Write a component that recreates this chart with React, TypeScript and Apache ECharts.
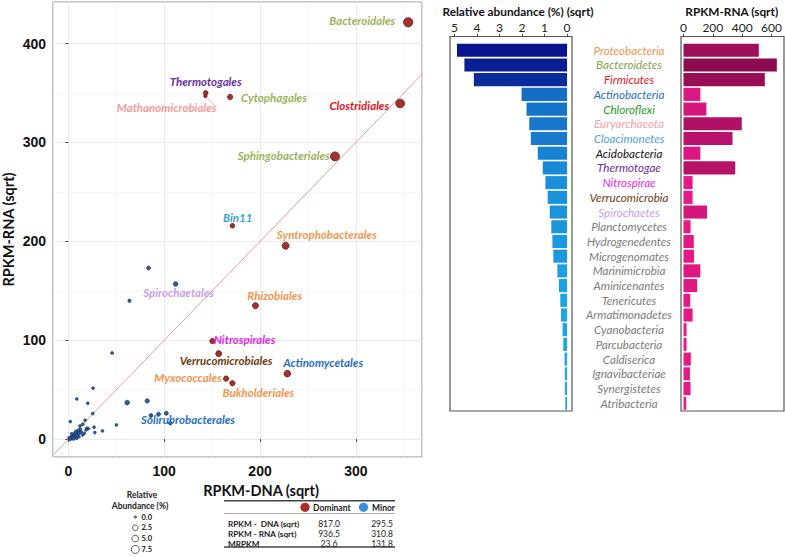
import React, { useEffect, useRef } from 'react';
import * as echarts from 'echarts';

// ---------- Scatter data (sqrt RPKM) ----------
const dominantNames = ['Bacteroidales', 'Thermotogales', 'Mathanomicrobiales', 'Cytophagales', 'Clostridiales', 'Sphingobacteriales', 'Bin11', 'Syntrophobacterales', 'Rhizobiales', 'Nitrospirales', 'Verrucomicrobiales', 'Actinomycetales', 'Myxococcales', 'Bukholderiales'];
const dominantDNA = [354.6, 143.3, 143.0, 168.8, 346.2, 278.2, 171.2, 226.7, 195.2, 150.3, 156.9, 228.5, 164.6, 171.2];
const dominantRNA = [421.5, 350.1, 347.0, 346.0, 339.4, 285.9, 215.8, 195.6, 135.0, 99.3, 86.5, 66.3, 61.2, 56.6];
const dominantAbund = [6.8, 0.72, 0.15, 1.16, 5.7, 6.2, 0.72, 3.0, 1.8, 1.16, 1.8, 2.6, 1.16, 1.16];

const minorNames = ['', 'Spirochaetales', '', '', '', '', '', '', '', '', '', '', '', 'Solirubrobacterales', '', '', '', '', '', '', '', '', '', '', '', '', '', '', '', '', '', '', '', '', '', '', '', '', '', '', '', '', '', '', '', '', ''];
const minorDNA = [83.7, 111.9, 63.8, 45.7, 25.8, 8.8, 20.3, 61.4, 82.3, 25.5, 86.2, 94.1, 102.2, 106.4, 50.2, 35.6, 26.9, 27.6, 2.1, 17.5, 15.1, 19.2, 12.2, 16.7, 14.9, 1.8, 3.5, 5.2, 7.0, 8.7, 10.5, 6.4, 8.1, 9.8, 11.5, 13.3, 4.2, 7.6, 12.4, 3.5, 8.7, 0.8, 2.5, 5.5, 11.0, 20.9, 18.5];
const minorRNA = [173.0, 156.9, 140.0, 87.2, 51.5, 40.7, 36.3, 37.0, 38.7, 25.9, 23.9, 25.3, 26.3, 16.2, 14.4, 8.4, 12.1, 6.7, 17.8, 19.2, 15.2, 11.1, 13.4, 6.0, 4.3, 0.0, 2.6, 4.3, 6.0, 7.7, 8.8, 2.0, 3.3, 4.6, 6.0, 7.4, 1.0, 7.7, 10.0, 5.4, 1.0, 1.4, 0.5, 0.3, 2.5, 10.7, 9.4];
const minorAbund = [0.33, 0.72, 0.1, 0.04, 0.02, 0.02, 0.02, 0.72, 0.48, 0.03, 0.33, 0.33, 0.33, 0.2, 0.03, 0.02, 0.02, 0.02, 0.02, 0.02, 0.03, 0.02, 0.02, 0.02, 0.02, 0.05, 0.05, 0.08, 0.08, 0.05, 0.05, 0.08, 0.05, 0.05, 0.05, 0.05, 0.08, 0.05, 0.05, 0.03, 0.03, 0.03, 0.03, 0.03, 0.03, 0.02, 0.02];

const identityLine = [-30, 420];

// ---------- Phylum bars ----------
const phyla = ['Proteobacteria', 'Bacteroidetes', 'Firmicutes', 'Actinobacteria', 'Chloroflexi', 'Euryarchaeota', 'Cloacimonetes', 'Acidobacteria', 'Thermotogae', 'Nitrospirae', 'Verrucomicrobia', 'Spirochaetes', 'Planctomycetes', 'Hydrogenedentes', 'Microgenomates', 'Marinimicrobia', 'Aminicenantes', 'Tenericutes', 'Armatimonadetes', 'Cyanobacteria', 'Parcubacteria', 'Caldiserica', 'Ignavibacteriae', 'Synergistetes', 'Atribacteria'];
const relAbundSqrt = [4.89, 4.56, 4.14, 2.02, 1.80, 1.68, 1.61, 1.30, 1.08, 0.96, 0.86, 0.77, 0.70, 0.65, 0.61, 0.43, 0.36, 0.30, 0.27, 0.20, 0.17, 0.11, 0.10, 0.10, 0.08];
const rpkmRnaSqrt = [513, 636, 554, 115, 156, 397, 334, 115, 352, 62, 62, 160, 48, 70, 72, 115, 93, 46, 62, 21, 21, 50, 44, 48, 19];

// ---------- Table ----------
const tableRows = ['RPKM -  DNA (sqrt)', 'RPKM - RNA (sqrt)', 'MRPKM'];
const tableDominant = ['817.0', '936.5', '23.6'];
const tableMinor = ['295.5', '310.8', '131.8'];
const legendSizes = ['0.0', '2.5', '5.0', '7.5'];

// ---------- Styles ----------
const phylumColor: Record<string, string> = {
  Proteobacteria: '#f0924a', Bacteroidetes: '#86a04a', Firmicutes: '#e3141c', Actinobacteria: '#1f6fc2',
  Chloroflexi: '#1e9a28', Euryarchaeota: '#f3a3a3', Cloacimonetes: '#4ea5d3', Acidobacteria: '#111111',
  Thermotogae: '#6b2f9e', Nitrospirae: '#e61ee6', Verrucomicrobia: '#6b3d12', Spirochaetes: '#c5a0ef',
};
const labelStyle: Record<string, { color: string; align: string; dx: number; dy: number }> = {
  Bacteroidales: { color: '#9bb35c', align: 'right', dx: -13, dy: -1.3 },
  Thermotogales: { color: '#6b2f9e', align: 'center', dx: 0, dy: -11.7 },
  Mathanomicrobiales: { color: '#f29b9b', align: 'center', dx: -38.8, dy: 11.3 },
  Cytophagales: { color: '#9bb35c', align: 'left', dx: 11, dy: 0.6 },
  Clostridiales: { color: '#e3141c', align: 'right', dx: -11, dy: 2 },
  Sphingobacteriales: { color: '#9bb35c', align: 'right', dx: -5.3, dy: -0.6 },
  Bin11: { color: '#3aa2d6', align: 'center', dx: 5.2, dy: -8.4 },
  Syntrophobacterales: { color: '#f0954e', align: 'center', dx: 41.2, dy: -11.4 },
  Rhizobiales: { color: '#f0954e', align: 'center', dx: 19.3, dy: -10 },
  Nitrospirales: { color: '#e61ee6', align: 'left', dx: 1.3, dy: -1 },
  Verrucomicrobiales: { color: '#6b3d12', align: 'center', dx: 7.4, dy: 6.6 },
  Actinomycetales: { color: '#1f6fc2', align: 'center', dx: 35.8, dy: -10.7 },
  Myxococcales: { color: '#f0954e', align: 'right', dx: -4.4, dy: -1 },
  Bukholderiales: { color: '#f0954e', align: 'center', dx: 26, dy: 9 },
  Spirochaetales: { color: '#c5a0ef', align: 'center', dx: 3, dy: 8.3 },
  Solirubrobacterales: { color: '#1f6fc2', align: 'center', dx: 17.7, dy: -3.3 },
};

const lerpColor = (a: number[], b: number[], t: number) => {
  const c = a.map((v, i) => Math.round(v + (b[i] - v) * Math.max(0, Math.min(1, t))));
  return `rgb(${c[0]},${c[1]},${c[2]})`;
};
const blueScale = (v: number) => lerpColor([30, 172, 236], [8, 16, 138], v / 5);
const pinkScale = (v: number) => lerpColor([238, 26, 140], [138, 11, 78], v / 640);
const sizeOf = (a: number) => 2.5 + 2.6 * Math.sqrt(a);

const labelFont = { fontFamily: 'Lato', fontStyle: 'italic' as const, fontWeight: 'bold' as const, fontSize: 11.5 };

function makeItem(name: string, x: number, y: number, a: number) {
  const item: any = { name, value: [x, y, a] };
  const st = labelStyle[name];
  if (st) {
    item.label = {
      show: true, position: 'inside', align: st.align, verticalAlign: 'middle', formatter: '{b}',
      color: st.color, ...labelFont,
    };
    if (name === 'Mathanomicrobiales') {
      item.labelLine = { show: true, lineStyle: { color: st.color, width: 0.8 } };
    }
  }
  return item;
}

const layoutLabel = (p: any) => {
  const st = labelStyle[p.text];
  return st ? { dx: st.dx, dy: st.dy } : {};
};

export default function App() {
  const ref = useRef<HTMLDivElement>(null);
  useEffect(() => {
    if (!ref.current) return;
    const chart = echarts.init(ref.current, undefined, { renderer: 'svg' });

    const domData = dominantNames.map((n, i) => makeItem(n, dominantDNA[i], dominantRNA[i], dominantAbund[i]));
    const minData = minorDNA.map((x, i) => makeItem(minorNames[i] || '', x, minorRNA[i], minorAbund[i]));

    const tickFont = { fontFamily: 'Liberation Sans', fontWeight: 'bold' as const, fontSize: 14, color: '#111' };
    const nameFont = { fontFamily: 'Lato', fontWeight: 'bold' as const, fontSize: 14.5, color: '#111' };
    const barTick = { fontFamily: 'Lato', fontSize: 12, color: '#222', margin: 3 };
    const barTitle = { fontFamily: 'Lato', fontWeight: 'bold' as const, fontSize: 11.8, color: '#111' };

    const graphic: any[] = [
      { type: 'rect', shape: { x: 450, y: 36.5, width: 122, height: 374.5 }, style: { fill: 'none', stroke: '#555', lineWidth: 1.2 }, z: 10 },
      { type: 'rect', shape: { x: 681, y: 36.5, width: 103, height: 374.5 }, style: { fill: 'none', stroke: '#555', lineWidth: 1.2 }, z: 10 },
      { type: 'text', style: { text: 'Relative', x: 142, y: 495, align: 'center', verticalAlign: 'middle', fontFamily: 'Lato', fontWeight: 'bold', fontSize: 8.5, fill: '#222' } },
      { type: 'text', style: { text: 'Abundance (%)', x: 140, y: 505.5, align: 'center', verticalAlign: 'middle', fontFamily: 'Lato', fontWeight: 'bold', fontSize: 8.5, fill: '#222' } },
      { type: 'line', shape: { x1: 224, y1: 500.7, x2: 395, y2: 500.7 }, style: { stroke: '#444', lineWidth: 1.5 } },
      { type: 'line', shape: { x1: 224, y1: 513.5, x2: 395, y2: 513.5 }, style: { stroke: '#999', lineWidth: 0.8 } },
      { type: 'line', shape: { x1: 224, y1: 547, x2: 395, y2: 547 }, style: { stroke: '#444', lineWidth: 1.5 } },
      { type: 'circle', shape: { cx: 305, cy: 507.3, r: 4.6 }, style: { fill: '#b02a2a' } },
      { type: 'text', style: { text: 'Dominant', x: 313, y: 507.5, align: 'left', verticalAlign: 'middle', fontFamily: 'Lato', fontWeight: 'bold', fontSize: 8.5, fill: '#222' } },
      { type: 'circle', shape: { cx: 363.5, cy: 507.3, r: 4.6 }, style: { fill: '#3b8fdd' } },
      { type: 'text', style: { text: 'Minor', x: 372, y: 507.5, align: 'left', verticalAlign: 'middle', fontFamily: 'Lato', fontWeight: 'bold', fontSize: 8.5, fill: '#222' } },
    ];
    const legendR = [1.2, 2.8, 3.3, 4.0];
    legendSizes.forEach((s, i) => {
      const y = 517 + i * 10.8;
      graphic.push({ type: 'circle', shape: { cx: 135.3, cy: y, r: legendR[i] }, style: { fill: i === 0 ? '#999' : '#fff', stroke: '#333', lineWidth: 0.8 } });
      graphic.push({ type: 'text', style: { text: s, x: 141.5, y, align: 'left', verticalAlign: 'middle', fontFamily: 'Lato', fontWeight: 'bold', fontSize: 7.5, fill: '#222' } });
    });
    tableRows.forEach((r, i) => {
      const y = 523.5 + i * 10;
      graphic.push({ type: 'text', style: { text: r, x: 228, y, align: 'left', verticalAlign: 'middle', fontFamily: 'Lato', fontWeight: 'bold', fontSize: 8.2, fill: '#222' } });
      graphic.push({ type: 'text', style: { text: tableDominant[i], x: 329, y, align: 'center', verticalAlign: 'middle', fontFamily: 'Lato', fontSize: 8.5, fill: '#222' } });
      graphic.push({ type: 'text', style: { text: tableMinor[i], x: 382, y, align: 'center', verticalAlign: 'middle', fontFamily: 'Lato', fontSize: 8.5, fill: '#222' } });
    });

    const option: any = {
      animation: false,
      backgroundColor: '#ffffff',
      grid: [
        { left: 53, top: 2, width: 369, height: 455, show: true, borderColor: '#8a8a8a', borderWidth: 1, backgroundColor: '#fff' },
        { left: 450, top: 42.6, width: 122, height: 368 },
        { left: 681, top: 42.6, width: 103, height: 368 },
      ],
      xAxis: [
        {
          gridIndex: 0, type: 'value', min: -16, max: 369, minInterval: 100, maxInterval: 100,
          axisLine: { show: false },
          axisTick: { show: true, length: 3, lineStyle: { color: '#444' } },
          axisLabel: { ...tickFont, margin: 7, showMinLabel: false, showMaxLabel: false },
          splitLine: { show: true, lineStyle: { color: '#e4e4e4', width: 0.8 } },
          minorTick: { show: false, splitNumber: 2 },
          minorSplitLine: { show: true, lineStyle: { color: '#f2f2f2', width: 0.6 } },
          name: 'RPKM-DNA (sqrt)', nameLocation: 'middle', nameGap: 21,
          nameTextStyle: { ...nameFont, padding: [0, 0, 0, 47] },
        },
        {
          gridIndex: 1, type: 'value', inverse: true, position: 'top', offset: 6,
          min: -0.22, max: 5.2, minInterval: 1, maxInterval: 1,
          axisLine: { show: false },
          axisTick: { show: true, length: 3, lineStyle: { color: '#444' } },
          axisLabel: { ...barTick, showMinLabel: false, showMaxLabel: false },
          splitLine: { show: false },
          name: 'Relative abundance (%) (sqrt)', nameLocation: 'middle', nameGap: 17,
          nameTextStyle: { ...barTitle, padding: [0, 0, 0, 14] },
        },
        {
          gridIndex: 2, type: 'value', position: 'top', offset: 6,
          min: -17, max: 674, minInterval: 200, maxInterval: 200,
          axisLine: { show: false },
          axisTick: { show: true, length: 3, lineStyle: { color: '#444' } },
          axisLabel: { ...barTick, showMinLabel: false, showMaxLabel: false },
          splitLine: { show: false },
          name: 'RPKM-RNA (sqrt)', nameLocation: 'middle', nameGap: 17,
          nameTextStyle: { ...barTitle },
        },
      ],
      yAxis: [
        {
          gridIndex: 0, type: 'value', min: -18, max: 442, minInterval: 100, maxInterval: 100,
          axisLine: { show: false },
          axisTick: { show: true, length: 3, lineStyle: { color: '#444' } },
          axisLabel: { ...tickFont, margin: 7, showMinLabel: false, showMaxLabel: false },
          splitLine: { show: true, lineStyle: { color: '#e4e4e4', width: 0.8 } },
          minorTick: { show: false, splitNumber: 2 },
          minorSplitLine: { show: true, lineStyle: { color: '#f2f2f2', width: 0.6 } },
          name: 'RPKM-RNA (sqrt)', nameLocation: 'middle', nameGap: 37, nameTextStyle: { ...nameFont },
        },
        {
          gridIndex: 1, type: 'category', data: phyla, inverse: true,
          axisLine: { show: false }, axisTick: { show: false }, axisLabel: { show: false },
        },
        {
          gridIndex: 2, type: 'category', data: phyla, inverse: true,
          axisLine: { show: false }, axisTick: { show: false },
          axisLabel: {
            interval: 0, margin: 52, align: 'center', fontFamily: 'Lato', fontStyle: 'italic', fontSize: 11.6,
            color: (v: string) => phylumColor[v] || '#7b7b7b',
          },
        },
      ],
      series: [
        {
          type: 'line', xAxisIndex: 0, yAxisIndex: 0, data: [[identityLine[0], identityLine[0]], [identityLine[1], identityLine[1]]],
          symbol: 'none', silent: true, clip: true, lineStyle: { color: '#d6a09c', width: 1 }, z: 1,
        },
        {
          type: 'scatter', name: 'Minor', xAxisIndex: 0, yAxisIndex: 0, data: minData,
          symbolSize: (v: number[]) => sizeOf(v[2]),
          itemStyle: { color: '#2f5d9e', borderColor: '#0f2a52', borderWidth: 0.6, opacity: 1 },
          labelLayout: layoutLabel,
          z: 3,
        },
        {
          type: 'scatter', name: 'Dominant', xAxisIndex: 0, yAxisIndex: 0, data: domData,
          symbolSize: (v: number[]) => sizeOf(v[2]),
          itemStyle: { color: '#a8302c', borderColor: '#4a1010', borderWidth: 0.7, opacity: 1 },
          labelLayout: layoutLabel,
          z: 4,
        },
        {
          type: 'bar', xAxisIndex: 1, yAxisIndex: 1, barCategoryGap: '11%',
          data: relAbundSqrt.map((v) => ({ value: v, itemStyle: { color: blueScale(v) } })),
        },
        {
          type: 'bar', xAxisIndex: 2, yAxisIndex: 2, barCategoryGap: '11%',
          data: rpkmRnaSqrt.map((v) => ({ value: v, itemStyle: { color: pinkScale(v) } })),
        },
      ],
      graphic,
    };
    chart.setOption(option);
    return () => chart.dispose();
  }, []);
  return <div ref={ref} style={{ position: 'absolute', left: 0, top: 0, width: 785, height: 557 }} />;
}
